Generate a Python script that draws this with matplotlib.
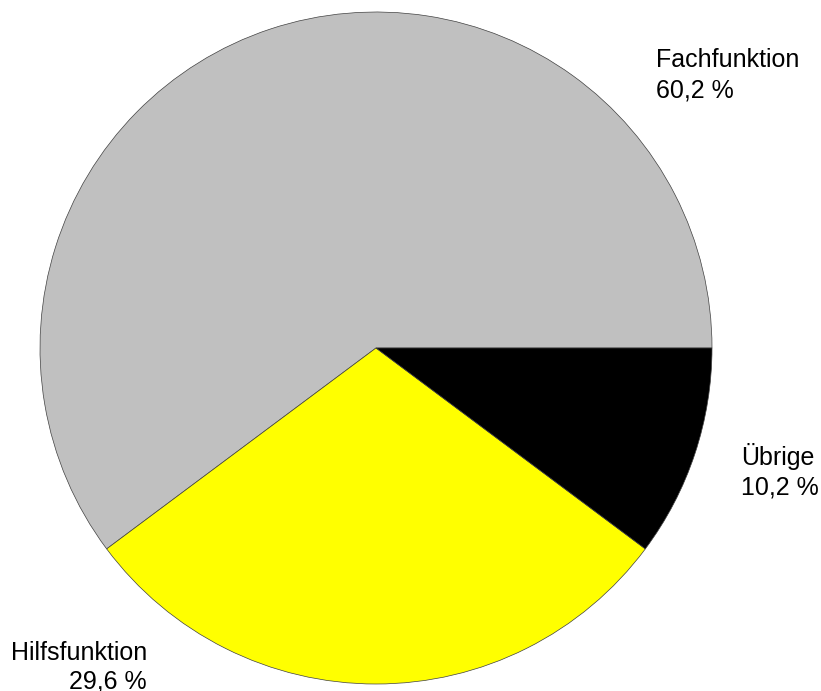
import matplotlib
matplotlib.use("Agg")
import matplotlib.pyplot as plt

labels = ['Fachfunktion', 'Hilfsfunktion', 'Übrige']
shares = [60.2, 29.6, 10.2]
colors = ['#C0C0C0', '#FFFF00', '#000000']
pct_text = ['60,2 %', '29,6 %', '10,2 %']

plt.rcParams['font.family'] = ['Liberation Sans', 'DejaVu Sans']

fig = plt.figure(figsize=(8.21, 6.91), dpi=100)
ax = fig.add_axes([0, 0, 1, 1])

# pie in pixel coords, center (376,348) from top
ax.pie(shares, colors=colors, startangle=0, counterclock=True,
       center=(376, 691 - 348), radius=336, frame=True,
       wedgeprops=dict(edgecolor='#404040', linewidth=0.5))
ax.set_xlim(0, 821)
ax.set_ylim(0, 691)
ax.axis('off')

fs = 18
# Fachfunktion
ax.text(656, 691 - 67, labels[0], fontsize=fs, ha='left', va='baseline')
ax.text(656, 691 - 97, pct_text[0], fontsize=fs, ha='left', va='baseline')
# Übrige
ax.text(741, 691 - 465, labels[2], fontsize=fs, ha='left', va='baseline')
ax.text(741, 691 - 494, pct_text[2], fontsize=fs, ha='left', va='baseline')
# Hilfsfunktion
ax.text(147, 691 - 660, labels[1], fontsize=fs, ha='right', va='baseline')
ax.text(147, 691 - 688, pct_text[1], fontsize=fs, ha='right', va='baseline')

fig.savefig('out.png', dpi=100)
